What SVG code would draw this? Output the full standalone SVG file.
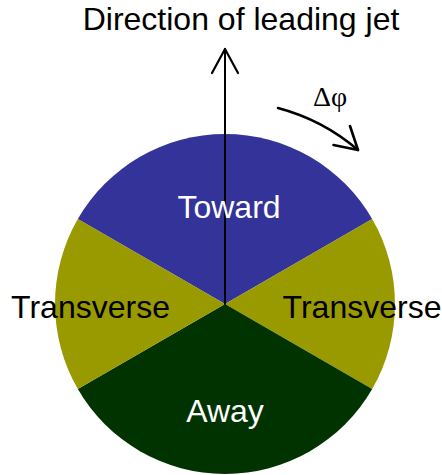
<svg xmlns="http://www.w3.org/2000/svg" width="442" height="475" viewBox="0 0 442 475">
<style>
.lbl{font-family:"Liberation Sans",Arial,sans-serif;font-size:32px;text-anchor:middle}
.w{fill:#ffffff}
.b{fill:#000000}
.ln{fill:none;stroke:#000;stroke-linecap:round;stroke-linejoin:round}
</style>
<rect width="442" height="475" fill="#ffffff"/>
<g id="toward">
<path d="M225,304 L372.2,219 A170,170 0 0 0 77.8,219 Z" fill="#333399"/>
</g>
<g id="transverse-right">
<path d="M225,304 L372.2,219 A170,170 0 0 1 372.2,389 Z" fill="#999900"/>
</g>
<g id="away">
<path d="M225,304 L372.2,389 A170,170 0 0 1 77.8,389 Z" fill="#003300"/>
</g>
<g id="transverse-left">
<path d="M225,304 L77.8,389 A170,170 0 0 1 77.8,219 Z" fill="#999900"/>
</g>
<g id="connectors">
<line x1="225" y1="304" x2="225" y2="49" class="ln" stroke-width="2"/>
<polyline points="212,73 225,49 238,73" class="ln" stroke-width="2.2"/>
<path d="M278,108 A203,203 0 0 1 358,150" class="ln" stroke-width="2.6"/>
<polyline points="350,126 358,150 333.5,145" class="ln" stroke-width="2.6"/>
</g>
<g id="labels">
<text x="241" y="30" class="lbl b" font-size="30">Direction of leading jet</text>
<text x="229" y="218" class="lbl w">Toward</text>
<text x="90.5" y="318" class="lbl b">Transverse</text>
<text x="362" y="318" class="lbl b">Transverse</text>
<text x="225" y="422" class="lbl w">Away</text>
<text x="330" y="106" font-family="'Liberation Serif','Times New Roman',serif" font-size="28" text-anchor="middle">Δφ</text>
</g>
</svg>
